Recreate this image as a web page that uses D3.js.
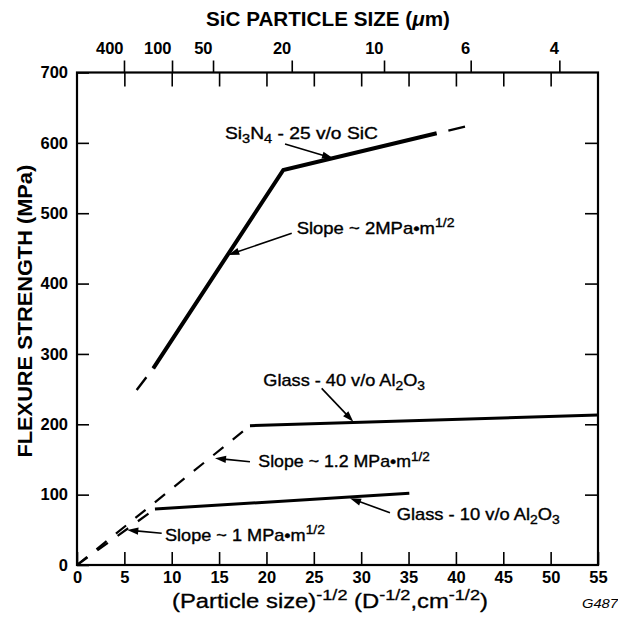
<!DOCTYPE html>
<html><head><meta charset="utf-8">
<script src="https://cdn.jsdelivr.net/npm/d3@7"></script>
<style>
body{margin:0;background:#fff}
svg{display:block}
text{font-family:"Liberation Sans",Arial,Helvetica,sans-serif;fill:#000}
</style>
</head><body>
<svg id="c" width="618" height="617"></svg>
<script>
// ---------- data ----------
const xTickValues = [0,5,10,15,20,25,30,35,40,45,50,55];
const yTickValues = [0,100,200,300,400,500,600,700];
const topSizeLabels = ["400","100","50","20","10","6","4"];          // SiC particle size (µm)
const topSizePositions = [4.96,10.03,14.36,22.67,32.41,41.56,50.92]; // where they sit on D^-1/2 axis

const si3n4Solid    = [[8.05,279.6],[21.78,561.4],[37.97,613.6]];
const si3n4DashLow  = [[6.3,248.7],[8.05,279.6]];
const si3n4DashHigh = [[37.97,613.6],[40.96,623]];
const glass40Solid  = [[18.26,198],[55,213.2]];
const glass40Dash   = [[0,0],[18.26,198]];
const glass10Solid  = [[8.23,79.6],[35.08,101.9]];
const glass10Dash   = [[0,0],[8.23,79.6]];

const annotations = [
  {parts:[{t:"Si"},{t:"3",sub:1},{t:"N"},{t:"4",sub:1},{t:" - 25 v/o SiC"}], at:[15.62,605.5], w:153, from:[21.96,598.4], to:[27.03,578.1]},
  {parts:[{t:"Slope ~ 2MPa\u2022m"},{t:"1/2",sup:1}], at:[23.19,470.5], w:158, from:[22.67,471.5], to:[15.97,440.6]},
  {parts:[{t:"Glass - 40 v/o Al"},{t:"2",sub:1},{t:"O"},{t:"3",sub:1}], at:[19.67,254.4], w:161.7, from:[25.83,251.1], to:[29.17,203.7]},
  {parts:[{t:"Slope ~ 1.2 MPa\u2022m"},{t:"1/2",sup:1}], at:[19.14,138.6], w:171.7, from:[18.26,146.8], to:[14.57,151.7]},
  {parts:[{t:"Glass - 10 v/o Al"},{t:"2",sub:1},{t:"O"},{t:"3",sub:1}], at:[33.75,64.0], w:163.3, from:[33.04,74.3], to:[28.82,94.8]},
  {parts:[{t:"Slope ~ 1 MPa\u2022m"},{t:"1/2",sup:1}], at:[9.29,34.1], w:160, from:[8.94,45.1], to:[5.31,49.7]}
];

// ---------- layout ----------
const svg = d3.select("#c");
const x = d3.scaleLinear().domain([0,55]).range([77,598]);
const y = d3.scaleLinear().domain([0,700]).range([565,72.5]);

function rich(parent, parts, fs, weight){
  const t = parent.append("text").attr("font-size",fs).attr("font-weight",weight||"normal");
  let shift = 0;
  parts.forEach(p=>{
    const sp = t.append("tspan").text(p.t);
    const target = p.sub ? 0.24*fs : (p.sup ? -0.42*fs : 0);
    if (target-shift !== 0) sp.attr("dy", target-shift);
    shift = target;
    if (p.sub||p.sup) sp.attr("font-size", fs*0.76);
    if (p.it) sp.attr("font-style","italic");
  });
  return t;
}
function fit(t, left, base, width, rot){
  const w = t.node().getComputedTextLength();
  const s = width ? width/w : 1;
  if (rot) t.attr("transform",`translate(${left},${base}) rotate(-90) scale(${s},1)`);
  else t.attr("transform",`translate(${left},${base}) scale(${s},1)`);
}

// axes
const tickStyle = g=>{ g.select(".domain").remove(); g.selectAll("line").attr("stroke","#000").attr("stroke-width",1.6);
  g.selectAll("text").attr("font-family",'"Liberation Sans",Arial,sans-serif').attr("font-size",16.5).attr("font-weight","bold").attr("fill","#000"); };

svg.append("g").attr("transform",`translate(0,${y(0)})`)
  .call(d3.axisBottom(x).tickValues(xTickValues).tickSize(-13).tickPadding(6.4)).call(tickStyle);
svg.append("g").attr("transform",`translate(${x(0)},0)`)
  .call(d3.axisLeft(y).tickValues(yTickValues).tickSize(-12).tickPadding(9)).call(tickStyle);
svg.append("g").attr("transform",`translate(${x(55)},0)`)
  .call(d3.axisRight(y).tickValues(yTickValues.slice(1,-1)).tickSize(-13).tickFormat("")).call(tickStyle);
svg.append("g").attr("transform",`translate(0,${y(700)})`)
  .call(d3.axisTop(x).tickValues(xTickValues.slice(1,-1)).tickSize(-14).tickFormat("")).call(tickStyle);
const topAx = svg.append("g").attr("transform",`translate(0,${y(700)})`)
  .call(d3.axisTop(x).tickValues(topSizePositions).tickSize(12).tickPadding(6.5)
        .tickFormat((d,i)=>topSizeLabels[i])).call(tickStyle);
topAx.selectAll("text").attr("text-anchor","end").attr("x",-1);

// frame
svg.append("rect").attr("x",x(0)).attr("y",y(700)).attr("width",x(55)-x(0)).attr("height",y(0)-y(700))
  .attr("fill","none").attr("stroke","#000").attr("stroke-width",2.2);

// lines
const line = d3.line().x(d=>x(d[0])).y(d=>y(d[1]));
function draw(data, w, dash){
  svg.append("path").attr("d",line(data)).attr("fill","none").attr("stroke","#000")
    .attr("stroke-width",w).attr("stroke-linejoin","miter").attr("stroke-dasharray",dash||null);
}
draw(glass40Dash, 2.2, "13,12");
draw(glass10Dash, 2.2, "13,12");
draw(si3n4DashLow, 2.4, "16,11");
draw(si3n4DashHigh, 2.4, "0,12,17");
draw(si3n4Solid, 4);
draw(glass40Solid, 3);
draw(glass10Solid, 3);

// annotations
annotations.forEach(a=>{
  const t = rich(svg, a.parts, 16).attr("stroke","#000").attr("stroke-width",0.35);
  fit(t, x(a.at[0]), y(a.at[1]), a.w);
  const x1=x(a.from[0]), y1=y(a.from[1]), x2=x(a.to[0]), y2=y(a.to[1]);
  const dx=x2-x1, dy=y2-y1, L=Math.hypot(dx,dy), ux=dx/L, uy=dy/L;
  const hl=11, hw=3.6, bx=x2-ux*hl, by=y2-uy*hl;
  svg.append("line").attr("x1",x1).attr("y1",y1).attr("x2",bx+ux*2).attr("y2",by+uy*2)
    .attr("stroke","#000").attr("stroke-width",1.6);
  svg.append("path").attr("d",`M${x2},${y2}L${bx-uy*hw},${by+ux*hw}L${bx+uy*hw},${by-ux*hw}Z`).attr("fill","#000");
});

// titles
const tTop = rich(svg,[{t:"SiC PARTICLE SIZE ("},{t:"\u03bc",it:1},{t:"m)"}],20,"bold");
fit(tTop, 328-122, 26, 244);
const tY = rich(svg,[{t:"FLEXURE STRENGTH (MPa)"}],21,"bold");
fit(tY, 32, 311+146.5, 293, true);
const tX = rich(svg,[{t:"(Particle size)"},{t:"-1/2",sup:1},{t:" (D"},{t:"-1/2",sup:1},{t:",cm"},{t:"-1/2",sup:1},{t:")"}],19.5)
  .attr("stroke","#000").attr("stroke-width",0.3);
fit(tX, 330-158, 608, 316);
const tG = rich(svg,[{t:"G487",it:1}],12.6);
fit(tG, 582, 608, 36);
</script>
</body></html>
